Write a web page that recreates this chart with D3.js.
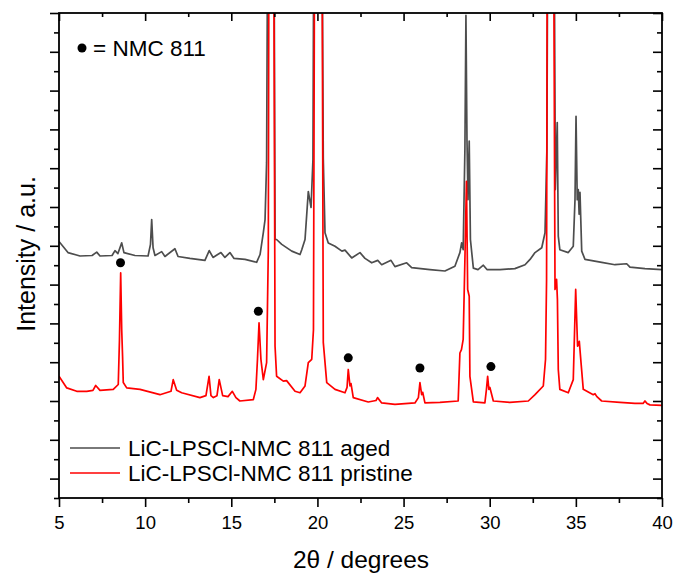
<!DOCTYPE html>
<html>
<head>
<meta charset="utf-8">
<script src="https://cdn.jsdelivr.net/npm/d3@7"></script>
<style>
  body { margin: 0; background: #fff; }
  text { font-family: "Liberation Sans", Arial, sans-serif; fill: #000; }
</style>
</head>
<body>
<svg width="677" height="575"></svg>
<script>
// 2theta (degrees), intensity (a.u., offset stack)
const agedPattern = [
  [5.00, 52.9], [5.52, 50.6], [6.22, 49.9], [6.92, 50.0], [7.19, 50.7], [7.38, 49.9],
  [8.08, 50.0], [8.25, 51.0], [8.42, 50.4], [8.64, 52.6], [8.77, 50.6], [9.41, 50.0],
  [10.17, 49.9], [10.31, 52.3], [10.38, 57.4], [10.46, 51.6], [10.57, 50.0], [10.96, 50.8],
  [11.15, 49.8], [11.73, 51.4], [11.91, 49.8], [12.60, 49.4], [13.47, 49.0], [13.72, 51.0],
  [13.94, 49.6], [14.21, 50.2], [14.40, 50.6], [14.63, 49.6], [14.92, 50.6], [15.16, 49.4],
  [15.80, 49.2], [16.47, 48.6], [16.67, 50.2], [16.86, 54.7], [16.96, 57.4], [17.05, 69.2],
  [17.15, 150], [17.28, 400], [17.45, 150], [17.54, 53.3], [17.63, 53.3], [17.93, 52.3],
  [18.51, 50.9], [18.99, 50.2], [19.09, 51.2], [19.28, 53.3], [19.47, 63.2], [19.63, 59.9],
  [19.74, 69.8], [19.82, 150], [19.96, 400], [20.22, 150], [20.34, 70], [20.44, 54.7],
  [20.63, 52.6], [21.02, 51.9], [21.42, 50.9], [21.60, 51.1], [21.99, 49.5], [22.47, 50.6],
  [22.76, 49.4], [23.15, 48.5], [23.50, 49.0], [23.73, 48.1], [24.27, 49.0], [24.50, 47.7],
  [25.18, 48.5], [25.47, 47.5], [26.53, 47.1], [27.40, 46.8], [27.98, 47.8], [28.27, 50.6],
  [28.37, 52.6], [28.46, 51.2], [28.56, 71.9], [28.62, 99.5], [28.68, 73.9], [28.74, 61.5],
  [28.81, 73.6], [28.88, 53.3], [29.05, 47.4], [29.32, 47.1], [29.63, 48.0], [29.84, 47.1],
  [30.60, 47.1], [31.46, 47.3], [32.05, 48.1], [32.34, 49.2], [32.63, 50.6], [33.02, 51.6],
  [33.21, 54.7], [33.32, 71.9], [33.40, 150], [33.52, 400], [33.70, 150], [33.81, 63.6],
  [33.92, 77.4], [33.98, 54.0], [34.07, 51.2], [34.56, 50.6], [34.85, 51.9], [34.95, 61.5],
  [35.01, 78.7], [35.08, 61.5], [35.14, 63.6], [35.19, 58.5], [35.24, 63.0], [35.34, 50.9],
  [35.53, 49.2], [36.50, 48.6], [37.27, 48.1], [37.95, 48.3], [38.14, 47.6], [39.01, 47.3],
  [40.00, 47.1]
];

const pristinePattern = [
  [5.00, 25.1], [5.45, 22.7], [6.03, 22.0], [6.61, 22.0], [6.97, 22.2], [7.13, 23.2],
  [7.38, 22.2], [8.15, 22.4], [8.44, 23.4], [8.51, 32.7], [8.58, 46.4], [8.64, 34.7],
  [8.69, 29.2], [8.73, 23.8], [8.93, 22.7], [9.70, 22.4], [10.86, 21.3], [11.50, 22.0],
  [11.63, 24.4], [11.83, 22.2], [12.12, 21.7], [13.18, 20.7], [13.53, 21.1], [13.71, 25.1],
  [13.82, 21.1], [13.96, 20.7], [14.17, 21.1], [14.30, 24.4], [14.50, 21.1], [14.81, 20.9],
  [15.06, 22.0], [15.27, 20.7], [15.50, 20.0], [16.28, 20.3], [16.43, 22.4], [16.52, 28.6],
  [16.61, 36.1], [16.72, 28.6], [16.86, 24.4], [17.05, 27.9], [17.15, 51.2], [17.20, 150],
  [17.31, 400], [17.44, 150], [17.54, 31.3], [17.63, 25.1], [18.02, 24.1], [18.21, 24.2],
  [18.70, 22.0], [18.99, 21.7], [19.28, 23.1], [19.47, 27.9], [19.67, 28.6], [19.77, 34.7],
  [19.86, 150], [20.03, 400], [20.24, 150], [20.34, 32.1], [20.54, 23.8], [21.02, 22.4],
  [21.60, 21.7], [21.72, 22.8], [21.79, 26.5], [21.89, 23.1], [21.95, 23.6], [22.08, 20.7],
  [22.95, 19.8], [23.40, 20.1], [23.49, 20.7], [23.73, 19.6], [24.50, 19.3], [25.66, 19.6],
  [25.86, 20.7], [25.95, 23.8], [26.05, 21.3], [26.11, 21.8], [26.24, 19.6], [27.11, 19.7],
  [28.17, 20.0], [28.27, 29.9], [28.36, 30.6], [28.46, 32.7], [28.56, 49.2], [28.65, 65.3],
  [28.72, 43.0], [28.81, 41.6], [28.85, 25.1], [29.05, 19.8], [29.72, 19.6], [29.81, 22.4],
  [29.88, 25.1], [29.95, 22.4], [30.01, 22.8], [30.21, 20.0], [31.17, 19.7], [32.24, 20.0],
  [32.63, 21.3], [33.11, 23.1], [33.24, 28.6], [33.30, 45.1], [33.36, 150], [33.50, 400],
  [33.68, 150], [33.79, 43.0], [33.88, 45.1], [33.93, 40.9], [33.98, 26.5], [34.07, 22.4],
  [34.56, 21.7], [34.85, 24.4], [34.99, 43.0], [35.10, 31.3], [35.20, 32.3], [35.30, 27.9],
  [35.43, 22.4], [36.01, 21.3], [36.11, 21.5], [36.22, 20.9], [36.50, 20.0], [37.56, 19.7],
  [38.43, 19.5], [38.90, 19.5], [39.01, 20.0], [39.13, 19.5], [39.30, 19.2], [40.00, 19.1]
];

// NMC 811 reflections marked with dots
const nmcMarkers = [[8.57, 48.5], [16.57, 38.5], [21.79, 28.9], [25.95, 26.8], [30.07, 27.1]];

const seriesNames = ['LiC-LPSCl-NMC 811 aged', 'LiC-LPSCl-NMC 811 pristine'];
const seriesColors = ['#4d4d4d', '#ff0000'];
const xMajorTicks = [5, 10, 15, 20, 25, 30, 35, 40];
const xMinorTicks = [7.5, 12.5, 17.5, 22.5, 27.5, 32.5, 37.5];
const yMajorTicks = d3.range(4, 101, 8);
const yMinorTicks = d3.range(0, 97, 8);

const svg = d3.select('svg');
const plotLeft = 59, plotRight = 662, plotTop = 13, plotBottom = 498;

const x = d3.scaleLinear().domain([5, 40]).range([plotLeft, plotRight]);
const y = d3.scaleLinear().domain([0, 100]).range([plotBottom, plotTop]);

svg.append('defs').append('clipPath').attr('id', 'plot')
  .append('rect')
    .attr('x', plotLeft).attr('y', plotTop)
    .attr('width', plotRight - plotLeft).attr('height', plotBottom - plotTop);

const line = d3.line().x(d => x(d[0])).y(d => y(d[1]));

const plot = svg.append('g').attr('clip-path', 'url(#plot)');
[agedPattern, pristinePattern].forEach((pattern, i) => {
  plot.append('path')
    .datum(pattern)
    .attr('fill', 'none')
    .attr('stroke', seriesColors[i])
    .attr('stroke-width', 1.7)
    .attr('stroke-linejoin', 'round')
    .attr('d', line);
});

svg.append('g').selectAll('circle').data(nmcMarkers)
  .enter().append('circle')
    .attr('cx', d => x(d[0]))
    .attr('cy', d => y(d[1]))
    .attr('r', 4.5)
    .attr('fill', '#000');

// axes: ticks out on bottom/left, in on top/right
const addAxis = (axis, transform) => {
  const g = svg.append('g').attr('transform', transform).call(axis);
  g.select('.domain').remove();
  g.selectAll('line').attr('stroke', '#000').attr('stroke-width', 1.6);
  return g;
};

addAxis(d3.axisBottom(x).tickValues(xMajorTicks).tickSize(9).tickPadding(9).tickFormat(d3.format('d')),
  `translate(0,${plotBottom})`)
  .selectAll('text')
    .attr('font-size', 18.5)
    .style('font-family', '"Liberation Sans", Arial, sans-serif');
addAxis(d3.axisBottom(x).tickValues(xMinorTicks).tickSize(5).tickFormat(''), `translate(0,${plotBottom})`);
addAxis(d3.axisBottom(x).tickValues(xMajorTicks).tickSize(8).tickFormat(''), `translate(0,${plotTop})`);
addAxis(d3.axisBottom(x).tickValues(xMinorTicks).tickSize(4).tickFormat(''), `translate(0,${plotTop})`);

addAxis(d3.axisLeft(y).tickValues(yMajorTicks).tickSize(9).tickFormat(''), `translate(${plotLeft},0)`);
addAxis(d3.axisLeft(y).tickValues(yMinorTicks).tickSize(5).tickFormat(''), `translate(${plotLeft},0)`);
addAxis(d3.axisLeft(y).tickValues(yMajorTicks).tickSize(9).tickFormat(''), `translate(${plotRight},0)`);
addAxis(d3.axisLeft(y).tickValues(yMinorTicks).tickSize(5).tickFormat(''), `translate(${plotRight},0)`);

svg.append('rect')
  .attr('x', plotLeft).attr('y', plotTop)
  .attr('width', plotRight - plotLeft).attr('height', plotBottom - plotTop)
  .attr('fill', 'none')
  .attr('stroke', '#000')
  .attr('stroke-width', 1.8);

// axis titles
svg.append('text')
  .attr('x', 361)
  .attr('y', 568)
  .attr('text-anchor', 'middle')
  .attr('font-size', 24.5)
  .text('2θ / degrees');

svg.append('text')
  .attr('transform', `translate(35,254) rotate(-90)`)
  .attr('text-anchor', 'middle')
  .attr('font-size', 25)
  .text('Intensity / a.u.');

// marker key
svg.append('circle').attr('cx', 82).attr('cy', 48).attr('r', 4.5).attr('fill', '#000');
svg.append('text')
  .attr('x', 93).attr('y', 56)
  .attr('font-size', 22.5)
  .text('= NMC 811');

// series legend
const legend = svg.append('g').selectAll('g').data(seriesNames)
  .enter().append('g')
    .attr('transform', (d, i) => `translate(70,${448 + i * 25})`);
legend.append('line')
  .attr('x1', 0).attr('x2', 50)
  .attr('stroke', (d, i) => seriesColors[i])
  .attr('stroke-width', 1.7);
legend.append('text')
  .attr('x', 58).attr('y', 8)
  .attr('font-size', 22.5)
  .text(d => d);
</script>
</body>
</html>
